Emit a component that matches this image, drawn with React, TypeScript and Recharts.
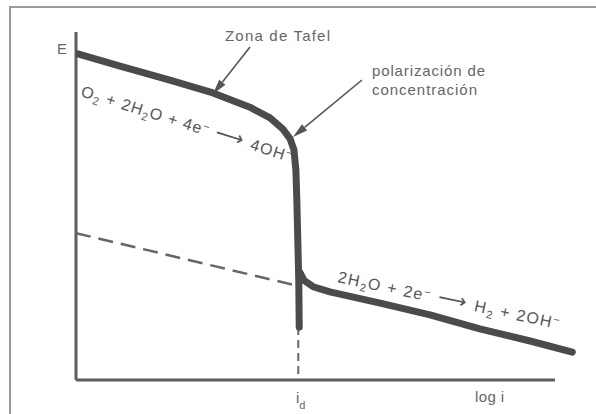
import React from "react";
import { ComposedChart, Line, XAxis, YAxis, ReferenceLine } from "recharts";

// oxygen reduction branch: Tafel zone, then concentration polarization
const oxygenLogI = [0.04, 0.92, 1.96, 2.86, 3.63, 4.05, 4.32, 4.47, 4.55, 4.59, 4.61, 4.63, 4.65, 4.66];
const oxygenE = [9.37, 9.02, 8.62, 8.25, 7.84, 7.53, 7.21, 6.93, 6.61, 6.03, 5.17, 4.02, 2.87, 1.52];

// hydrogen evolution branch
const hydrogenLogI = [4.67, 4.76, 4.95, 5.3, 6.35, 7.39, 8.43, 9.48, 10.36];
const hydrogenE = [3.1, 2.86, 2.68, 2.53, 2.21, 1.87, 1.47, 1.12, 0.8];

// extrapolated Tafel line of the hydrogen branch
const extrapLogI = [0, 4.64];
const extrapE = [4.22, 2.7];

// limiting current density
const limitLogI = 4.64;
const limitE = [1.52, 0];

const toRows = (xs: number[], ys: number[]) => xs.map((x, i) => ({ logI: x, E: ys[i] }));

const oxygenData = toRows(oxygenLogI, oxygenE);
const hydrogenData = toRows(hydrogenLogI, hydrogenE);
const extrapData = toRows(extrapLogI, extrapE);
const limitData = toRows([limitLogI, limitLogI], limitE);

const W = 596;
const H = 414;
const margin = { top: 32, right: 17, left: 76, bottom: 34 };

const curveColor = "#4b4b4b";
const axisColor = "#5e5e5e";
const textColor = "#666";
const font = "'Liberation Sans', Arial, sans-serif";

// filled arrow head pointing from (x1,y1) to (x2,y2)
const Arrow = ({ x1, y1, x2, y2 }: { x1: number; y1: number; x2: number; y2: number }) => {
  const a = Math.atan2(y2 - y1, x2 - x1);
  const len = 15;
  const half = 4;
  const bx = x2 - len * Math.cos(a);
  const by = y2 - len * Math.sin(a);
  const px = -Math.sin(a) * half;
  const py = Math.cos(a) * half;
  return (
    <g>
      <line x1={x1} y1={y1} x2={bx} y2={by} stroke="#555" strokeWidth={1.6} />
      <polygon points={`${x2},${y2} ${bx + px},${by + py} ${bx - px},${by - py}`} fill="#555" />
    </g>
  );
};

const Label = ({ x, y, w, children }: { x: number; y: number; w: number; children: React.ReactNode }) => (
  <text x={x} y={y} fontSize={15} fill={textColor} fontFamily={font} textLength={w} lengthAdjust="spacing">
    {children}
  </text>
);

const Annotations = () => (
  <svg width={W} height={H} style={{ position: "absolute", left: 0, top: 0, pointerEvents: "none" }}>
    {/* frame */}
    <path d={`M10,${H} L10,7 L${W},7`} fill="none" stroke="#9a9a9a" strokeWidth={2} />

    <text x={57} y={54} fontSize={15} fill={textColor} fontFamily={font}>E</text>

    <Label x={225} y={41} w={105}>Zona de Tafel</Label>
    <Arrow x1={250} y1={47} x2={213} y2={94} />

    <Label x={372} y={76} w={113}>polarización de</Label>
    <Label x={372} y={95} w={105}>concentración</Label>
    <Arrow x1={362} y1={80} x2={293} y2={137} />

    <text
      transform="translate(80,96) rotate(17.5)"
      fontSize={16}
      fill="#555"
      fontFamily={font}
      textLength={220}
      lengthAdjust="spacing"
    >
      O<tspan dy={4} fontSize={11}>2</tspan>
      <tspan dy={-4}> + 2H</tspan>
      <tspan dy={4} fontSize={11}>2</tspan>
      <tspan dy={-4}>O + 4e</tspan>
      <tspan dy={-5} fontSize={11}>−</tspan>
      <tspan dy={5} fontSize={20}> ⟶ </tspan>
      <tspan>4OH</tspan>
      <tspan dy={-5} fontSize={11}>−</tspan>
    </text>

    <text
      transform="translate(337,282) rotate(12)"
      fontSize={16}
      fill="#555"
      fontFamily={font}
      textLength={226}
      lengthAdjust="spacing"
    >
      2H<tspan dy={4} fontSize={11}>2</tspan>
      <tspan dy={-4}>O + 2e</tspan>
      <tspan dy={-5} fontSize={11}>−</tspan>
      <tspan dy={5} fontSize={20}> ⟶ </tspan>
      <tspan>H</tspan>
      <tspan dy={4} fontSize={11}>2</tspan>
      <tspan dy={-4}> + 2OH</tspan>
      <tspan dy={-5} fontSize={11}>−</tspan>
    </text>

    <text x={296} y={403} fontSize={15} fill={textColor} fontFamily={font}>
      i<tspan dy={6} fontSize={11}>d</tspan>
    </text>
    <Label x={475} y={402} w={29}>log i</Label>
  </svg>
);

export default function App() {
  return (
    <div style={{ position: "absolute", left: 0, top: 0, width: W, height: H, background: "#fff" }}>
      <ComposedChart width={W} height={H} margin={margin}>
        <XAxis type="number" dataKey="logI" domain={[0, 10.5]} hide allowDataOverflow />
        <YAxis type="number" dataKey="E" domain={[0, 10]} hide allowDataOverflow />

        {/* axes */}
        <ReferenceLine x={0} stroke={axisColor} strokeWidth={3} />
        <ReferenceLine segment={[{ x: 0, y: 0 }, { x: 10, y: 0 }]} stroke={axisColor} strokeWidth={3} />

        <Line
          data={extrapData}
          dataKey="E"
          type="linear"
          stroke="#666"
          strokeWidth={2.5}
          strokeDasharray="15 8"
          dot={false}
          isAnimationActive={false}
        />
        <Line
          data={limitData}
          dataKey="E"
          type="linear"
          stroke="#666"
          strokeWidth={2}
          strokeDasharray="8 5"
          dot={false}
          isAnimationActive={false}
        />
        <Line
          data={oxygenData}
          dataKey="E"
          type="linear"
          stroke={curveColor}
          strokeWidth={7}
          strokeLinecap="round"
          strokeLinejoin="round"
          dot={false}
          isAnimationActive={false}
        />
        <Line
          data={hydrogenData}
          dataKey="E"
          type="linear"
          stroke={curveColor}
          strokeWidth={7}
          strokeLinecap="round"
          strokeLinejoin="round"
          dot={false}
          isAnimationActive={false}
        />
      </ComposedChart>
      <Annotations />
    </div>
  );
}
